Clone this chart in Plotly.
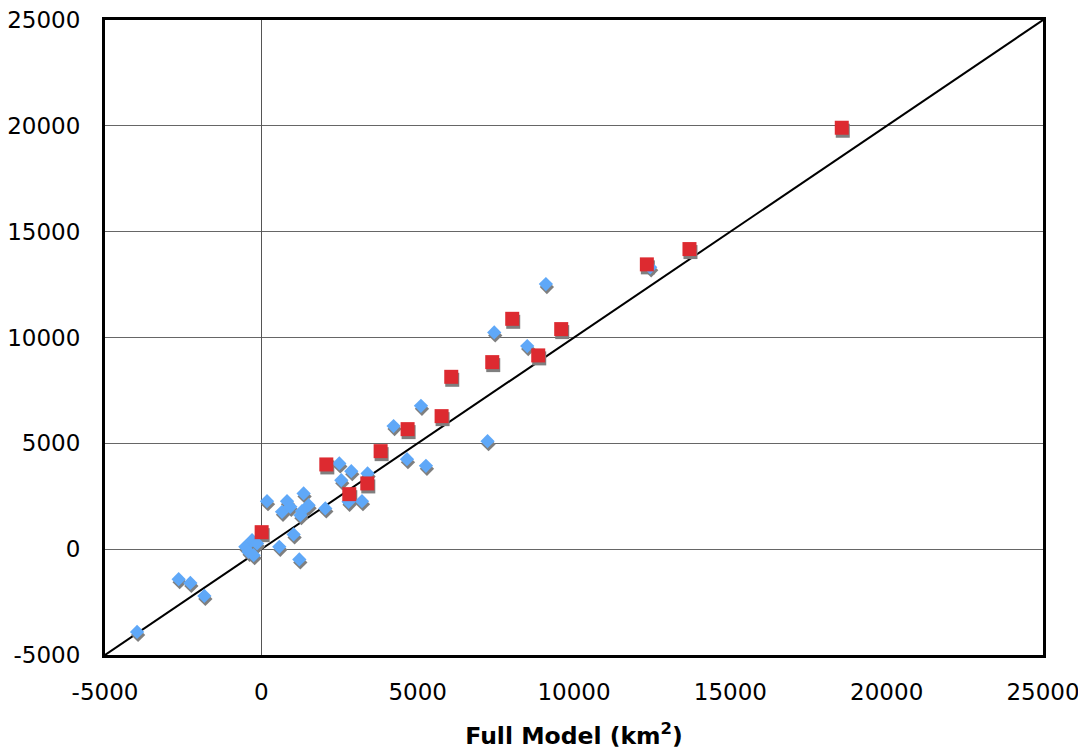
import plotly.graph_objects as go

# Blue diamonds (Full Model vs reduced model), km^2
blue_x = [-3974, -2644, -2270, -1822, -512, -406, -246, -297, -137,
          182, 822, 662, 927, 1352, 1512, 1301, 1250, 1033, 575, 1215,
          2046, 2494, 2877, 2558, 3398, 2791, 3219, 4230, 5105, 4658,
          5265, 7235, 7449, 8504, 9101, 12436]
blue_y = [-3908, -1418, -1593, -2207, 109, -128, -284, 425, 269,
          2268, 2268, 1763, 1999, 2632, 2079, 1800, 1607, 695, 109, -487,
          1923, 4050, 3686, 3261, 3578, 2235, 2268, 5813, 6773, 4253,
          3937, 5104, 10241, 9594, 12523, 13313]

# Red squares
red_x = [10, 2078, 2813, 3389, 3815, 4678, 5765, 6074, 7385, 8024,
         8856, 9591, 12330, 13693, 18564]
red_y = [803, 4003, 2599, 3105, 4631, 5671, 6285, 8143, 8837, 10883,
         9154, 10397, 13455, 14178, 19910]

# 1:1 line
line_x = [-5000, 25000]
line_y = [-5000, 25000]

tick_vals = [-5000, 0, 5000, 10000, 15000, 20000, 25000]
tick_text = ["-5000", "0", "5000", "10000", "15000", "20000", "25000"]

BLUE = "#5fa8f8"
RED = "#dd2a30"
SHADOW = "#7f7f7f"

rng = [-5000, 25000]
# shadow axes shifted (shadow appears ~1px right, ~3px down)
sx = 32.0 * 1
sy = 47.2 * 3
rng_x_sh = [rng[0] - sx, rng[1] - sx]
rng_y_sh = [rng[0] + sy, rng[1] + sy]

fig = go.Figure()
fig.add_trace(go.Scatter(x=line_x, y=line_y, mode="lines",
                         line=dict(color="black", width=2), showlegend=False,
                         hoverinfo="skip"))
# shadows
fig.add_trace(go.Scatter(x=blue_x, y=blue_y, mode="markers", xaxis="x2", yaxis="y2",
                         marker=dict(symbol="diamond", size=11, color=SHADOW, line=dict(width=0)),
                         showlegend=False, hoverinfo="skip"))
fig.add_trace(go.Scatter(x=red_x, y=red_y, mode="markers", xaxis="x2", yaxis="y2",
                         marker=dict(symbol="square", size=14, color=SHADOW, line=dict(width=0)),
                         showlegend=False, hoverinfo="skip"))
# markers
fig.add_trace(go.Scatter(x=blue_x, y=blue_y, mode="markers", xaxis="x3", yaxis="y3",
                         marker=dict(symbol="diamond", size=11, color=BLUE, line=dict(width=0)),
                         showlegend=False))
fig.add_trace(go.Scatter(x=red_x, y=red_y, mode="markers", xaxis="x3", yaxis="y3",
                         marker=dict(symbol="square", size=14, color=RED, line=dict(width=0)),
                         showlegend=False))

FAM = "DejaVu Sans, Verdana, sans-serif"
font = dict(family=FAM, size=23, color="black")

fig.update_layout(
    width=1078, height=746,
    margin=dict(l=97, r=43, t=12, b=99),
    paper_bgcolor="white", plot_bgcolor="white",
    font=font,
    xaxis=dict(range=rng, tickvals=tick_vals, ticktext=tick_text, showgrid=False,
               zeroline=True, zerolinecolor="#555555", zerolinewidth=1,
               showline=True, linecolor="black", linewidth=3, mirror=True,
               ticks="", ticklabelstandoff=14, automargin=False,
               ticklabeloverflow="allow",
               title=dict(text="<b>Full Model (km<sup>2</sup>)</b>",
                          font=dict(family=FAM, size=23.5),
                          standoff=24)),
    yaxis=dict(range=rng, tickvals=tick_vals, ticktext=tick_text, showgrid=True,
               gridcolor="#666666", gridwidth=1, zeroline=False,
               showline=True, linecolor="black", linewidth=3, mirror=True,
               ticks="", ticklabelstandoff=17, automargin=False,
               ticklabeloverflow="allow"),
    xaxis2=dict(range=rng_x_sh, overlaying="x", visible=False),
    yaxis2=dict(range=rng_y_sh, overlaying="y", visible=False),
    xaxis3=dict(range=rng, overlaying="x", visible=False),
    yaxis3=dict(range=rng, overlaying="y", visible=False),
)

fig.write_html("out.html")
